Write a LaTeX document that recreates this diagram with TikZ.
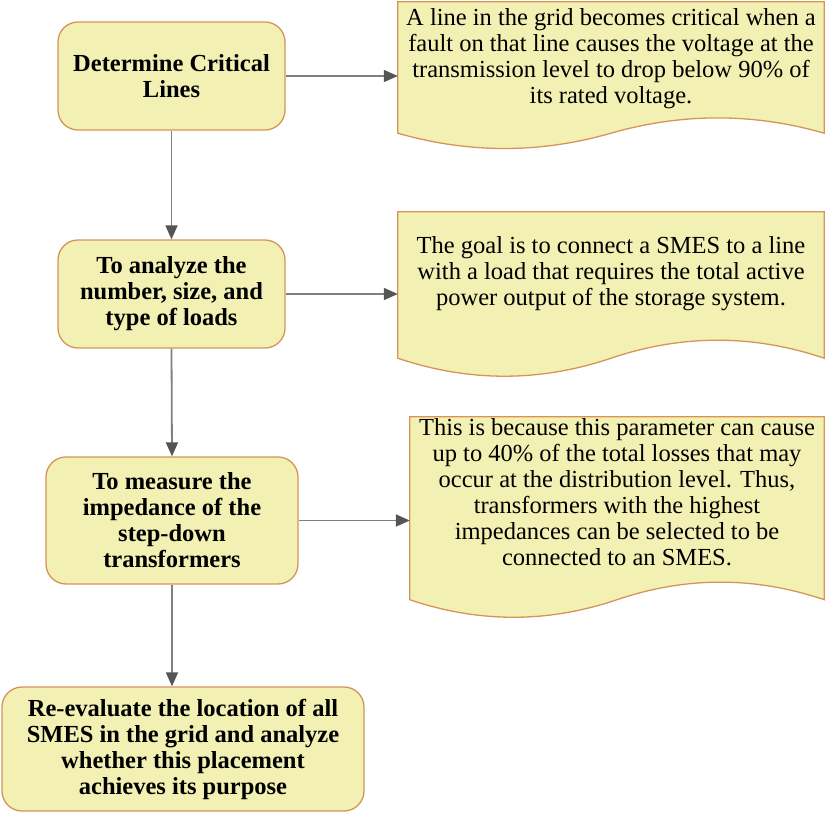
\documentclass[tikz,border=0pt]{standalone}
\usepackage{fontspec}
\setmainfont{Liberation Serif}
\usetikzlibrary{calc}
\usetikzlibrary{arrows.meta}

\definecolor{boxfill}{RGB}{242,240,178}
\definecolor{boxline}{RGB}{212,150,88}
\definecolor{flowgray}{RGB}{128,128,128}
\definecolor{tipgray}{RGB}{85,85,85}

\begin{document}
\begin{tikzpicture}[x=1pt,y=1pt,
  stepnode/.style={draw=boxline,fill=boxfill,line width=1.3pt,rounded corners=20pt,align=center,font=\bfseries\fontsize{24.5}{26}\selectfont},
  notetext/.style={align=center,font=\fontsize{24.5}{26}\selectfont},
  flow/.style={draw=flowgray,line width=1.8pt,-{Triangle[length=14pt,width=12pt,color=tipgray]}}]

\useasboundingbox (0,0) rectangle (825,-812);

% wavy note outline round an empty node
\def\notepath#1#2{
\draw [draw=boxline,fill=boxfill,line width=1.3pt] (#1.north west) -- (#1.north east) -- ($(#1.south east)+(0,#2/2)$)
  .. controls ($(#1.south east)!1/3!(#1.south)+(0,1.1*#2)$) and ($(#1.south)!1/3!(#1.south east)+(0,1.1*#2)$) .. ($(#1.south)+(0,#2/2)$)
  .. controls ($(#1.south)!1/3!(#1.south west)+(0,-0.1*#2)$) and ($(#1.south west)!1/3!(#1.south)+(0,-0.1*#2)$) .. ($(#1.south west)+(0,#2/2)$) -- cycle;
}

\node [stepnode,minimum width=227pt,minimum height=108pt] (crit) at (171.5,-76) {Determine Critical\\Lines};
\node [stepnode,minimum width=227pt,minimum height=108pt] (loads) at (171.5,-294) {To analyze the\\number, size, and\\type of loads};
\node [stepnode,minimum width=252pt,minimum height=127pt] (imped) at (172,-520.5) {To measure the\\impedance of the\\step-down\\transformers};
\node [stepnode,minimum width=362pt,minimum height=124pt] (reeval) at (183,-749) {Re-evaluate the location of all\\SMES in the grid and analyze\\whether this placement\\achieves its purpose};

\node [minimum width=426pt,minimum height=148pt,inner sep=0pt] (note1) at (611,-76) {};
\notepath{note1}{34}
\node [notetext] (text1) at ([yshift=17pt]note1.center) {A line in the grid becomes critical when a\\fault on that line causes the voltage at the\\transmission level to drop below 90\% of\\its rated voltage.};

\node [minimum width=426pt,minimum height=166pt,inner sep=0pt] (note2) at (611,-295) {};
\notepath{note2}{40}
\node [notetext] (text2) at ([yshift=21pt]note2.center) {The goal is to connect a SMES to a line\\with a load that requires the total active\\power output of the storage system.};

\node [minimum width=414pt,minimum height=202pt,inner sep=0pt] (note3) at (617,-518) {};
\notepath{note3}{39}
\node [notetext] (text3) at ([yshift=26pt]note3.center) {This is because this parameter can cause\\up to 40\% of the total losses that may\\occur at the distribution level. Thus,\\transformers with the highest\\impedances can be selected to be\\connected to an SMES.};

\draw [flow] (crit.south) -- (loads.north);
\draw [flow] (loads.south) -- (imped.north);
\draw [flow] (imped.south) -- (imped.south |- reeval.north);

\draw [flow] (crit.east) -- (note1.west |- crit.east);
\draw [flow] (loads.east) -- (note2.west |- loads.east);
\draw [flow] (imped.east) -- (note3.west |- imped.east);
\end{tikzpicture}
\end{document}
